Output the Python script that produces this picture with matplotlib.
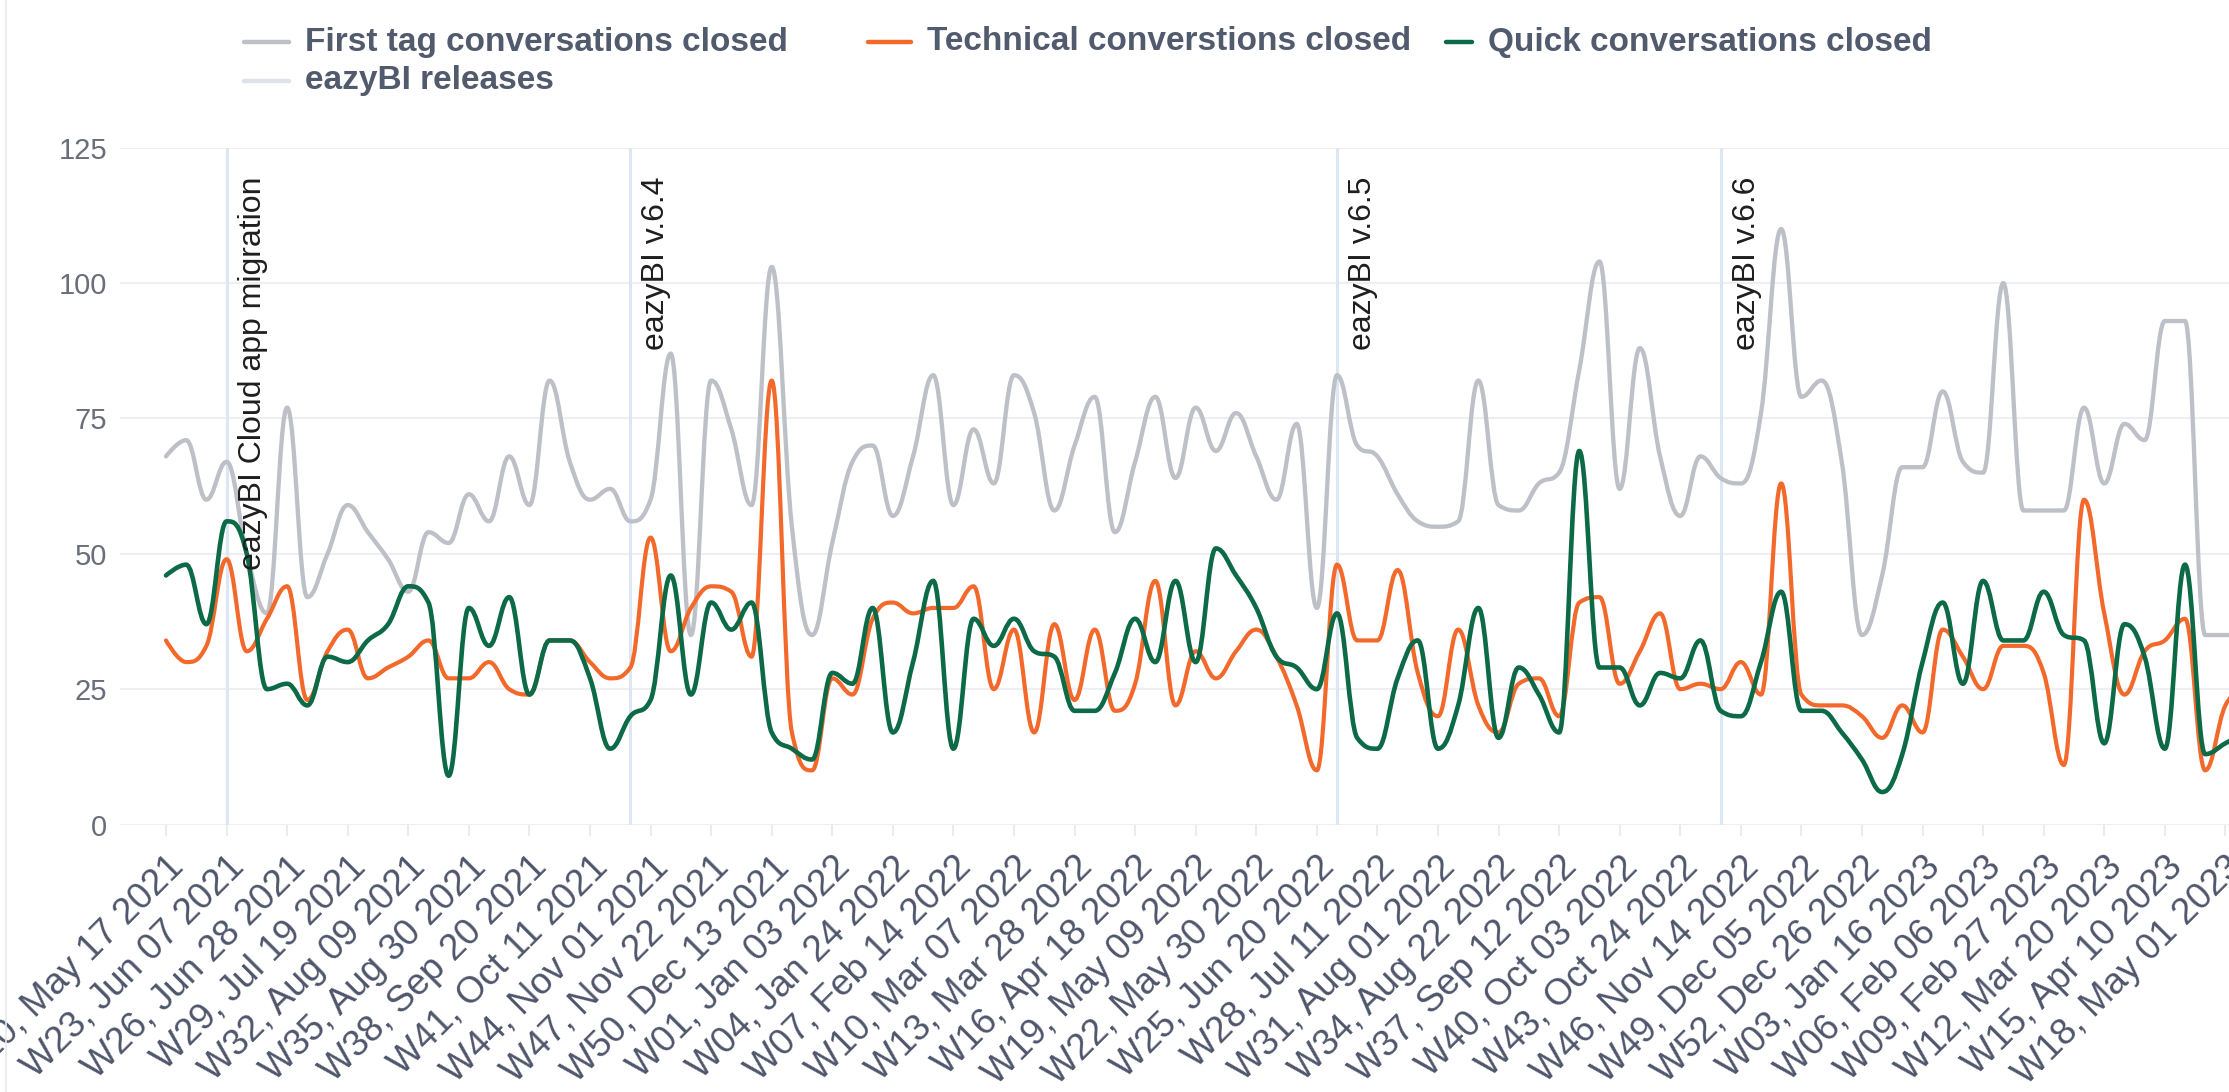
import numpy as np
import matplotlib.pyplot as plt
from matplotlib.path import Path
from matplotlib.patches import PathPatch
from matplotlib.lines import Line2D

plt.rcParams['font.family'] = ['Liberation Sans', 'DejaVu Sans']

# weekly values, first week = W20 May 17 2021
first_tag = [68, 71, 60, 67, 50, 39, 77, 42, 50, 59, 54, 49, 43, 54, 52, 61, 56, 68, 59, 82,
             67, 60, 62, 56, 60, 87, 35, 82, 73, 59, 103, 55, 35, 52, 67, 70, 57, 68, 83, 59,
             73, 63, 83, 76, 58, 70, 79, 54, 67, 79, 64, 77, 69, 76, 68, 60, 74, 40, 83, 70,
             68, 61, 56, 55, 56, 82, 59, 58, 63, 65, 84, 104, 62, 88, 68, 57, 68, 64, 63, 76,
             110, 79, 82, 67, 35, 46, 66, 66, 80, 67, 65, 100, 58, 58, 58, 77, 63, 74, 71, 93,
             93, 35, 35, 35]
technical = [34, 30, 33, 49, 32, 38, 44, 23, 32, 36, 27, 29, 31, 34, 27, 27, 30, 25, 24, 34,
             34, 30, 27, 29, 53, 32, 40, 44, 43, 31, 82, 17, 10, 27, 24, 38, 41, 39, 40, 40,
             44, 25, 36, 17, 37, 23, 36, 21, 26, 45, 22, 32, 27, 32, 36, 31, 22, 10, 48, 34,
             34, 47, 28, 20, 36, 22, 17, 26, 27, 20, 41, 42, 26, 32, 39, 25, 26, 25, 30, 24,
             63, 24, 22, 22, 20, 16, 22, 17, 36, 31, 25, 33, 33, 28, 11, 60, 39, 24, 32, 34,
             38, 10, 22, 25]
quick = [46, 48, 37, 56, 50, 25, 26, 22, 31, 30, 34, 37, 44, 41, 9, 40, 33, 42, 24, 34,
         34, 27, 14, 20, 23, 46, 24, 41, 36, 41, 17, 14, 12, 28, 26, 40, 17, 30, 45, 14,
         38, 33, 38, 32, 31, 21, 21, 28, 38, 30, 45, 30, 51, 46, 40, 31, 29, 25, 39, 16,
         14, 27, 34, 14, 22, 40, 16, 29, 24, 17, 69, 29, 29, 22, 28, 27, 34, 21, 20, 30,
         43, 21, 21, 17, 12, 6, 13, 30, 41, 26, 45, 34, 34, 43, 35, 34, 15, 37, 31, 14,
         48, 13, 15, 17]

tick_labels = ['W20, May 17 2021', 'W23, Jun 07 2021', 'W26, Jun 28 2021', 'W29, Jul 19 2021',
               'W32, Aug 09 2021', 'W35, Aug 30 2021', 'W38, Sep 20 2021', 'W41, Oct 11 2021',
               'W44, Nov 01 2021', 'W47, Nov 22 2021', 'W50, Dec 13 2021', 'W01, Jan 03 2022',
               'W04, Jan 24 2022', 'W07, Feb 14 2022', 'W10, Mar 07 2022', 'W13, Mar 28 2022',
               'W16, Apr 18 2022', 'W19, May 09 2022', 'W22, May 30 2022', 'W25, Jun 20 2022',
               'W28, Jul 11 2022', 'W31, Aug 01 2022', 'W34, Aug 22 2022', 'W37, Sep 12 2022',
               'W40, Oct 03 2022', 'W43, Oct 24 2022', 'W46, Nov 14 2022', 'W49, Dec 05 2022',
               'W52, Dec 26 2022', 'W03, Jan 16 2023', 'W06, Feb 06 2023', 'W09, Feb 27 2023',
               'W12, Mar 20 2023', 'W15, Apr 10 2023', 'W18, May 01 2023']

release_weeks = [3, 23, 58, 77]
release_labels = ['eazyBI Cloud app migration', 'eazyBI v.6.4', 'eazyBI v.6.5', 'eazyBI v.6.6']

GREY = '#bec0c8'
ORANGE = '#f2692b'
GREEN = '#0c6a47'
RELEASE = '#dde6f5'


def spline_path(ys, smoothing=1.5):
    # highcharts-like spline: bezier control points from the neighbours
    n = len(ys)
    xs = np.arange(n, dtype=float)
    ys = np.asarray(ys, dtype=float)
    left = [None] * n
    right = [None] * n
    for i in range(n):
        x, y = xs[i], ys[i]
        if i == 0 or i == n - 1:
            left[i] = (x, y)
            right[i] = (x, y)
            continue
        lx, ly = xs[i - 1], ys[i - 1]
        nx, ny = xs[i + 1], ys[i + 1]
        d = smoothing + 1
        lcx, lcy = (smoothing * x + lx) / d, (smoothing * y + ly) / d
        rcx, rcy = (smoothing * x + nx) / d, (smoothing * y + ny) / d
        corr = (rcy - lcy) * (rcx - x) / (rcx - lcx) + y - rcy
        lcy += corr
        rcy += corr
        if lcy > ly and lcy > y:
            lcy = max(ly, y); rcy = 2 * y - lcy
        elif lcy < ly and lcy < y:
            lcy = min(ly, y); rcy = 2 * y - lcy
        if rcy > ny and rcy > y:
            rcy = max(ny, y); lcy = 2 * y - rcy
        elif rcy < ny and rcy < y:
            rcy = min(ny, y); lcy = 2 * y - rcy
        left[i] = (lcx, lcy)
        right[i] = (rcx, rcy)
    verts = [(xs[0], ys[0])]
    codes = [Path.MOVETO]
    for i in range(1, n):
        verts += [right[i - 1], left[i], (xs[i], ys[i])]
        codes += [Path.CURVE4] * 3
    return Path(verts, codes)


W, H = 2229, 1092
fig = plt.figure(figsize=(W / 100, H / 100), dpi=100)
fig.patch.set_facecolor('white')

ax_l, ax_b, ax_t = 120, 824.5, 147.8
ax = fig.add_axes([ax_l / W, 1 - ax_b / H, 1 - ax_l / W, (ax_b - ax_t) / H])
ax.set_xlim(-(166 - ax_l) / 20.19, (W - 166) / 20.19)
ax.set_ylim(0, 125)

for s in ax.spines.values():
    s.set_visible(False)
ax.set_yticks(range(0, 126, 25))
ax.yaxis.grid(True, color='#eeeff3', lw=1.5)
ax.tick_params(axis='y', length=0, pad=9, labelsize=21, labelcolor='#6a6e7b')
ax.set_xticks(range(0, 103, 3))
ax.set_xticklabels(tick_labels, rotation=45, ha='right', rotation_mode='anchor')
ax.tick_params(axis='x', length=8, color='#ebecf1', width=1.5, pad=10,
               labelsize=26.5, labelcolor='#4f566b')
ax.set_axisbelow(True)

for wk, lab in zip(release_weeks, release_labels):
    ax.axvline(wk, color=RELEASE, lw=2.2, zorder=1)
    ax.text(wk + 0.55, 0.958, lab, transform=ax.get_xaxis_transform(), rotation=90,
            ha='left', va='top', fontsize=23, color='#1e1e1e', zorder=5)

for ys, col, lw, z in [(first_tag, GREY, 3.1, 2), (technical, ORANGE, 3.0, 3), (quick, GREEN, 3.3, 4)]:
    ax.add_patch(PathPatch(spline_path(ys), fill=False, edgecolor=col, lw=lw,
                           capstyle='round', joinstyle='round', zorder=z))

# legend drawn by hand so it sits like the original: (handle start, text start, row y)
legend = [(244, 305, 42, GREY, 'First tag conversations closed'),
          (868, 927, 42, ORANGE, 'Technical converstions closed'),
          (1446, 1488, 42, GREEN, 'Quick conversations closed'),
          (244, 305, 81, '#dfe2e8', 'eazyBI releases')]
for hx, tx, y, col, lab in legend:
    fig.add_artist(Line2D([hx / W, (tx - 16) / W], [1 - y / H, 1 - y / H], color=col,
                          lw=3.2, solid_capstyle='round'))
    fig.text(tx / W, 1 - y / H, lab, ha='left', va='center', fontsize=24,
             fontweight='bold', color='#525a6d')

# thin frame line at the left edge of the screenshot
fig.add_artist(Line2D([6 / W, 6 / W], [0, 1], color='#e9e9ec', lw=1.2))

fig.savefig('out.png', dpi=100, facecolor='white')
